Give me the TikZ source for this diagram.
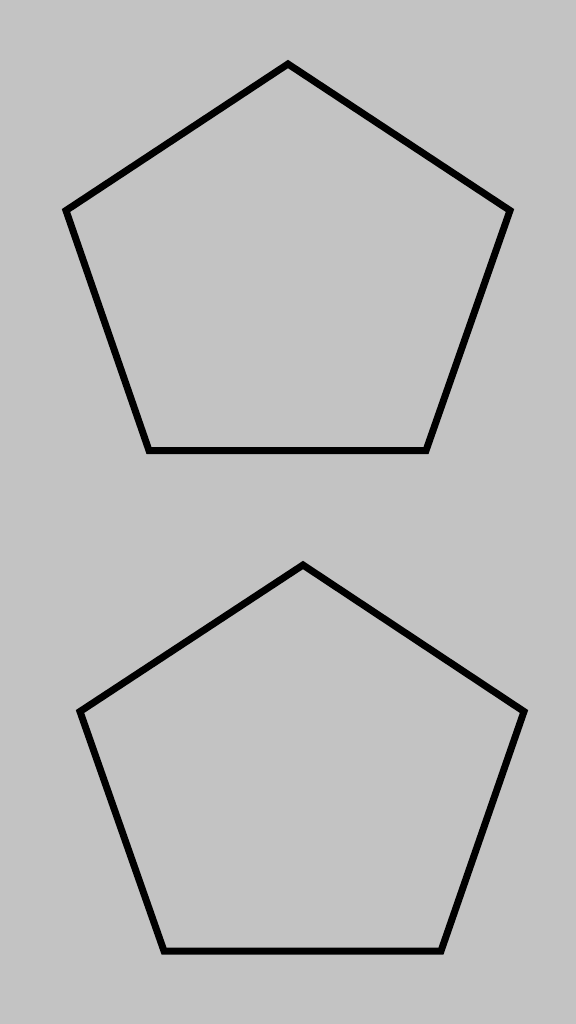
\documentclass[tikz,border=0pt]{standalone}
\definecolor{bg}{RGB}{195,195,195}
\tikzset{pent/.style={draw=black, line width=3.5pt, line join=miter}}
\begin{document}
\begin{tikzpicture}[x=0.5pt, y=-0.5pt]
\fill[bg] (0,0) rectangle (576,1024);
\useasboundingbox (0,0) rectangle (576,1024);
% upper pentagon
\coordinate (a1) at (288,64);
\coordinate (a2) at (510,210.5);
\coordinate (a3) at (426,450.5);
\coordinate (a4) at (149,450.5);
\coordinate (a5) at (66,210.5);
\draw[pent] (a1) -- (a2) -- (a3) -- (a4) -- (a5) -- cycle;
% lower pentagon
\coordinate (b1) at (303,565);
\coordinate (b2) at (524,711.5);
\coordinate (b3) at (441,951);
\coordinate (b4) at (164,951);
\coordinate (b5) at (80,711.5);
\draw[pent] (b1) -- (b2) -- (b3) -- (b4) -- (b5) -- cycle;
\end{tikzpicture}
\end{document}
